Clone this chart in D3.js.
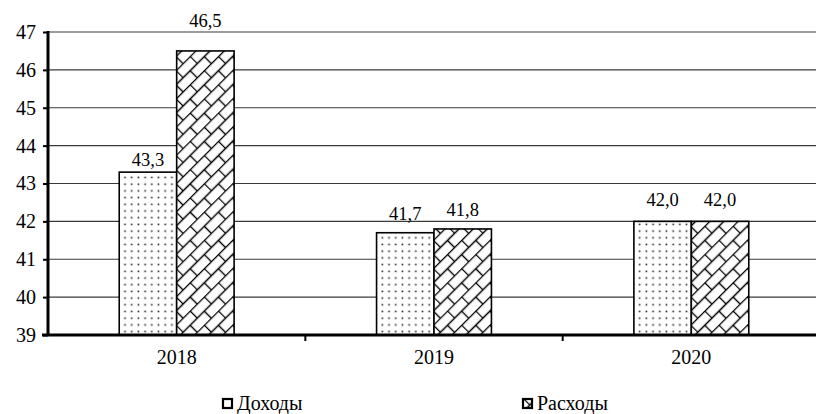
<!DOCTYPE html>
<html>
<head>
<meta charset="utf-8">
<script src="https://cdn.jsdelivr.net/npm/d3@7"></script>
<style>
  body { margin: 0; background: #fff; }
  svg { display: block; }
  svg text { font-family: "Liberation Serif", "Times New Roman", serif; fill: #000; }
</style>
</head>
<body>
<div class="container"></div>
<script>
const years = ["2018", "2019", "2020"];
const seriesNames = ["Доходы", "Расходы"];
const income = [43.3, 41.7, 42.0];
const expenses = [46.5, 41.8, 42.0];
const yTicks = [39, 40, 41, 42, 43, 44, 45, 46, 47];

// how far each value label sits above its bar (px), [income, expenses] per year
const labelLift = [[6, 24], [13, 13], [15, 15]];

const width = 816, height = 414;
const margin = {top: 32, right: -4, bottom: 79, left: 48};

const svg = d3.select(".container")
  .append("svg")
  .attr("width", width)
  .attr("height", height);

const defs = svg.append("defs");

// dotted fill
const dots = defs.append("pattern")
  .attr("id", "dots")
  .attr("patternUnits", "userSpaceOnUse")
  .attr("width", 6.7)
  .attr("height", 6.7);
dots.append("rect").attr("width", 6.7).attr("height", 6.7).attr("fill", "#fff");
dots.append("rect").attr("x", 2.5).attr("y", 2.5).attr("width", 1.6).attr("height", 1.6).attr("fill", "#222");

// diagonal brick fill
const brick = defs.append("pattern")
  .attr("id", "brick")
  .attr("patternUnits", "userSpaceOnUse")
  .attr("width", 20)
  .attr("height", 20)
  .attr("patternTransform", "rotate(-45)");
brick.append("rect").attr("width", 20).attr("height", 20).attr("fill", "#fff");
brick.append("path")
  .attr("d", "M0,0.5H20M0,10.5H20M0.5,0V10.5M10.5,10.5V20")
  .attr("stroke", "#000")
  .attr("stroke-width", 1.4)
  .attr("fill", "none");

const x = d3.scaleBand()
  .domain(years)
  .range([margin.left, width - margin.right]);

const x1 = d3.scaleBand()
  .domain(seriesNames)
  .range([0, x.bandwidth()])
  .paddingOuter(1.24)
  .paddingInner(0);

const y = d3.scaleLinear()
  .domain([39, 47])
  .range([height - margin.bottom, margin.top]);

// grid
svg.append("g")
  .selectAll("line")
  .data(yTicks.slice(1))
  .join("line")
  .attr("x1", margin.left)
  .attr("x2", width)
  .attr("y1", d => y(d))
  .attr("y2", d => y(d))
  .attr("stroke", "#3a3a3a")
  .attr("stroke-width", 1.2);

const fills = ["url(#dots)", "url(#brick)"];
const data = years.map((yr, i) => ({year: yr, i, values: [income[i], expenses[i]]}));

const groups = svg.append("g")
  .selectAll("g")
  .data(data)
  .join("g")
  .attr("transform", d => `translate(${x(d.year)},0)`);

groups.selectAll("rect")
  .data(d => d.values.map((v, j) => ({name: seriesNames[j], v, j})))
  .join("rect")
  .attr("x", d => x1(d.name))
  .attr("y", d => y(d.v))
  .attr("width", x1.bandwidth())
  .attr("height", d => y(39) - y(d.v))
  .attr("fill", d => fills[d.j])
  .attr("stroke", "#000")
  .attr("stroke-width", 1.6);

groups.selectAll("text")
  .data(d => d.values.map((v, j) => ({name: seriesNames[j], v, lift: labelLift[d.i][j]})))
  .join("text")
  .attr("x", d => x1(d.name) + x1.bandwidth() / 2)
  .attr("y", d => y(d.v) - d.lift)
  .attr("text-anchor", "middle")
  .attr("font-size", 18.5)
  .text(d => d3.format(".1f")(d.v).replace(".", ","));

// y axis
const yAxis = d3.axisLeft(y)
  .tickValues(yTicks)
  .tickSize(5)
  .tickPadding(7)
  .tickFormat(d3.format("d"));

svg.append("g")
  .attr("transform", `translate(${margin.left},0)`)
  .call(yAxis)
  .call(g => g.select(".domain").attr("stroke-width", 3).attr("d", `M0,${y(47) - 1}V${y(39) + 1}`))
  .call(g => g.selectAll(".tick line").attr("stroke-width", 2))
  .call(g => g.selectAll(".tick text").attr("font-size", 20));

// x axis
const xAxis = d3.axisBottom(x).tickSize(0).tickPadding(15);

svg.append("g")
  .attr("transform", `translate(0,${y(39)})`)
  .call(xAxis)
  .call(g => g.select(".domain").attr("stroke-width", 3).attr("d", `M${margin.left - 6},0H${width}`))
  .call(g => g.selectAll(".tick text").attr("font-size", 20))
  .call(g => g.selectAll(".sep")
    .data(years.slice(1))
    .join("line")
    .attr("class", "sep")
    .attr("x1", d => x(d))
    .attr("x2", d => x(d))
    .attr("y1", 0)
    .attr("y2", 6)
    .attr("stroke", "#000")
    .attr("stroke-width", 2));

// legend
const legendX = [222, 522];
const legend = svg.append("g")
  .selectAll("g")
  .data(seriesNames)
  .join("g")
  .attr("transform", (d, i) => `translate(${legendX[i]},398)`);

legend.append("rect")
  .attr("x", 1)
  .attr("y", 1)
  .attr("width", 9)
  .attr("height", 9)
  .attr("fill", (d, i) => i === 0 ? "#fff" : "url(#brick)")
  .attr("stroke", "#000")
  .attr("stroke-width", 2.2);

legend.append("text")
  .attr("x", 15)
  .attr("y", 12)
  .attr("font-size", 20)
  .text(d => d);
</script>
</body>
</html>
